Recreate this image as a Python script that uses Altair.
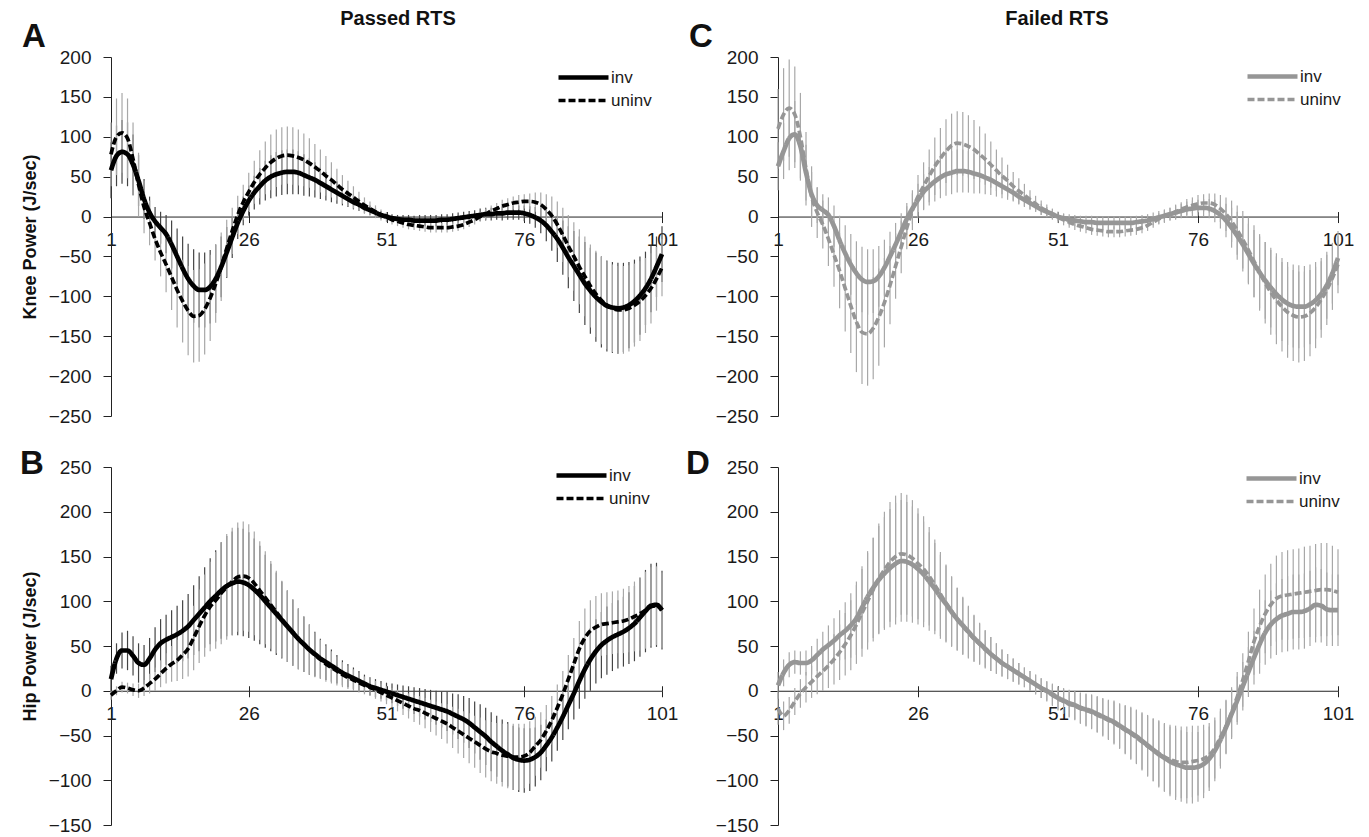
import altair as alt
import pandas as pd

FONT = "Liberation Sans"
X = list(range(1, 102))
X_TICKS = [1, 26, 51, 76, 101]
KNEE_TICKS = list(range(-250, 201, 50))
HIP_TICKS = list(range(-150, 251, 50))
SERIES = ["inv", "uninv"]

# ---------- Panel A : Passed RTS, knee ----------
A_inv = [58, 76, 81, 78, 65, 45, 22, 5, -6, -14,
         -22, -35, -50, -65, -78, -87, -92, -92, -88, -78,
         -63, -45, -26, -8, 7, 20, 30, 38, 45, 50,
         53, 55, 56, 56, 55, 52, 49, 46, 42, 38,
         34, 30, 26, 22, 18, 15, 11, 8, 5, 2,
         0, -2, -3, -4, -4, -5, -5, -5, -5, -5,
         -4, -4, -3, -2, -1, 0, 1, 2, 3, 3,
         4, 4, 5, 5, 5, 4, 2, -1, -5, -11,
         -19, -28, -39, -51, -62, -73, -84, -93, -101, -107,
         -112, -114, -115, -114, -111, -106, -99, -90, -78, -63,
         -47]
A_un = [78, 100, 105, 98, 72, 40, 12, -8, -28, -45,
        -60, -76, -92, -106, -118, -125, -124, -116, -102, -84,
        -63, -40, -18, 2, 18, 31, 43, 53, 61, 68,
        73, 76, 77, 76, 74, 71, 67, 62, 57, 51,
        46, 40, 34, 29, 24, 19, 14, 10, 6, 2,
        -1, -4, -6, -8, -10, -11, -12, -13, -14, -14,
        -14, -14, -13, -12, -10, -7, -4, 0, 3, 7,
        10, 13, 15, 17, 18, 19, 19, 18, 15, 9,
        1, -10, -23, -37, -50, -63, -75, -87, -97, -105,
        -111, -115, -117, -117, -115, -111, -106, -99, -90, -78,
        -64]
A_inv_sd = [35, 38, 40, 40, 38, 32, 25, 20, 18, 20,
            24, 30, 35, 40, 44, 46, 47, 47, 46, 43,
            38, 32, 26, 20, 18, 19, 21, 23, 25, 27,
            28, 28, 28, 28, 27, 26, 24, 22, 20, 18,
            16, 14, 12, 10, 9, 8, 7, 6, 6, 5,
            5, 5, 5, 6, 6, 6, 7, 7, 7, 7,
            7, 7, 7, 7, 7, 7, 7, 8, 8, 8,
            8, 9, 9, 9, 9, 10, 11, 13, 16, 20,
            24, 29, 34, 39, 44, 48, 52, 54, 56, 57,
            57, 57, 57, 56, 54, 52, 49, 46, 42, 38,
            35]
A_un_sd = [40, 48, 50, 50, 46, 40, 33, 28, 27, 30,
           35, 41, 47, 52, 56, 58, 58, 57, 54, 49,
           43, 36, 29, 24, 22, 24, 27, 30, 33, 35,
           36, 36, 36, 36, 35, 33, 31, 29, 27, 25,
           22, 20, 18, 16, 14, 12, 10, 9, 8, 7,
           6, 6, 6, 6, 6, 6, 6, 6, 6, 6,
           6, 6, 6, 6, 6, 6, 6, 6, 7, 7,
           7, 8, 8, 8, 9, 9, 10, 12, 15, 19,
           24, 29, 34, 39, 43, 47, 50, 52, 54, 55,
           55, 55, 55, 55, 54, 52, 50, 47, 44, 40,
           36]

# ---------- Panel C : Failed RTS, knee ----------
C_inv = [63, 82, 98, 103, 88, 55, 28, 14, 8, 2,
         -12, -30, -46, -60, -71, -79, -82, -81, -75, -64,
         -50, -35, -19, -3, 10, 21, 31, 38, 44, 49,
         53, 55, 57, 57, 56, 54, 52, 49, 46, 42,
         38, 34, 30, 25, 21, 17, 13, 9, 6, 3,
         0, -2, -4, -5, -6, -7, -7, -8, -8, -8,
         -8, -8, -8, -8, -7, -6, -5, -3, -1, 1,
         3, 5, 7, 9, 10, 11, 11, 10, 7, 2,
         -5, -14, -24, -35, -47, -59, -70, -80, -89, -97,
         -104, -109, -112, -113, -113, -110, -105, -97, -86, -71,
         -52]
C_un = [110, 128, 136, 128, 100, 60, 25, 5, -10, -28,
        -48, -68, -90, -112, -132, -145, -147, -140, -126, -108,
        -86, -62, -38, -14, 8, 25, 38, 51, 63, 73,
        82, 89, 92, 91, 88, 84, 78, 72, 65, 58,
        51, 45, 38, 32, 27, 21, 16, 11, 7, 3,
        -1, -4, -7, -10, -12, -14, -16, -17, -18, -19,
        -19, -19, -18, -17, -16, -14, -11, -7, -3, 0,
        3, 6, 9, 12, 14, 16, 17, 17, 15, 10,
        3, -6, -17, -29, -42, -56, -70, -83, -95, -105,
        -113, -120, -124, -126, -125, -121, -114, -104, -92, -77,
        -60]
C_inv_sd = [30, 35, 40, 42, 40, 35, 28, 22, 20, 22,
            26, 31, 35, 38, 40, 41, 41, 40, 38, 35,
            31, 27, 23, 20, 19, 20, 22, 24, 25, 26,
            27, 27, 27, 27, 26, 25, 23, 21, 19, 17,
            15, 13, 11, 10, 9, 8, 7, 7, 6, 6,
            6, 6, 7, 7, 7, 8, 8, 8, 8, 8,
            8, 8, 8, 8, 8, 8, 8, 8, 8, 8,
            8, 9, 9, 10, 10, 10, 11, 12, 14, 17,
            21, 25, 30, 34, 38, 42, 45, 48, 50, 51,
            52, 52, 52, 52, 51, 50, 48, 45, 42, 38,
            34]
C_un_sd = [50, 58, 61, 60, 55, 46, 38, 32, 30, 34,
           40, 47, 54, 59, 63, 65, 65, 64, 61, 56,
           49, 41, 33, 27, 25, 27, 30, 33, 36, 38,
           40, 40, 40, 40, 39, 37, 35, 32, 29, 26,
           23, 20, 18, 16, 14, 12, 10, 9, 8, 7,
           7, 7, 7, 7, 7, 7, 7, 7, 7, 7,
           7, 7, 7, 7, 7, 7, 7, 7, 7, 8,
           8, 9, 9, 10, 10, 11, 11, 12, 14, 17,
           21, 26, 31, 36, 41, 45, 48, 51, 53, 55,
           56, 57, 57, 57, 56, 54, 51, 48, 44, 40,
           36]

# ---------- Panel B : Passed RTS, hip ----------
B_inv = [13, 36, 45, 45, 39, 31, 29, 36, 46, 53,
         57, 60, 63, 67, 72, 79, 86, 93, 100, 106,
         112, 117, 120, 122, 121, 118, 113, 107, 100, 93,
         86, 79, 72, 65, 58, 52, 46, 41, 36, 32,
         28, 24, 20, 17, 14, 11, 8, 5, 3, 1,
         -1, -3, -5, -7, -9, -11, -13, -15, -17, -19,
         -21, -23, -26, -29, -32, -36, -41, -46, -51, -57,
         -62, -67, -71, -75, -77, -78, -77, -74, -69, -61,
         -52, -41, -29, -16, -3, 11, 24, 35, 44, 51,
         56, 60, 63, 66, 70, 75, 82, 89, 95, 96,
         90]
B_un = [-5, 0, 4, 3, 1, 0, 3, 8, 13, 19,
        25, 30, 34, 40, 47, 59, 72, 84, 94, 101,
        109, 116, 122, 127, 128, 126, 120, 112, 104, 96,
        88, 80, 72, 65, 58, 52, 46, 40, 35, 30,
        26, 22, 18, 15, 12, 9, 6, 4, 1, -2,
        -5, -8, -11, -14, -17, -20, -22, -25, -28, -31,
        -34, -37, -41, -45, -49, -53, -57, -61, -65, -68,
        -70, -72, -73, -74, -74, -73, -69, -62, -55, -45,
        -33, -19, -4, 13, 30, 47, 59, 67, 71, 74,
        75, 76, 77, 78, 80, 83, 86, 90, 94, 95,
        90]
B_inv_sd = [15, 17, 20, 22, 22, 22, 22, 23, 25, 27,
            28, 30, 32, 34, 36, 39, 42, 45, 48, 51,
            54, 56, 58, 60, 60, 59, 57, 55, 52, 49,
            46, 43, 40, 37, 34, 31, 28, 25, 22, 20,
            18, 16, 14, 13, 12, 11, 10, 10, 10, 10,
            10, 11, 12, 13, 14, 15, 16, 17, 18, 19,
            20, 22, 23, 25, 26, 28, 29, 31, 32, 33,
            34, 35, 36, 36, 36, 36, 35, 33, 31, 29,
            27, 26, 26, 27, 29, 31, 33, 35, 36, 37,
            38, 38, 38, 39, 40, 42, 44, 46, 47, 47,
            44]
B_un_sd = [5, 5, 6, 6, 7, 8, 9, 11, 13, 15,
           17, 20, 23, 27, 31, 36, 41, 46, 50, 54,
           57, 59, 60, 61, 61, 60, 58, 55, 52, 49,
           46, 43, 40, 37, 34, 31, 28, 25, 22, 20,
           18, 16, 14, 13, 12, 11, 10, 10, 10, 10,
           10, 11, 12, 13, 14, 15, 16, 17, 18, 19,
           20, 22, 23, 25, 26, 28, 29, 31, 32, 33,
           34, 35, 36, 37, 37, 36, 35, 33, 31, 29,
           27, 26, 26, 27, 29, 31, 33, 34, 35, 35,
           35, 35, 35, 36, 37, 39, 41, 43, 44, 44,
           42]

# ---------- Panel D : Failed RTS, hip ----------
D_inv = [6, 20, 29, 32, 31, 31, 34, 40, 46, 51,
         56, 62, 67, 73, 81, 93, 105, 115, 124, 131,
         137, 142, 145, 144, 141, 136, 130, 122, 114, 105,
         97, 88, 80, 73, 66, 59, 53, 47, 41, 36,
         31, 27, 23, 19, 15, 11, 7, 3, 0, -4,
         -8, -11, -14, -16, -19, -21, -23, -26, -29, -32,
         -35, -39, -43, -47, -51, -56, -61, -66, -71, -75,
         -79, -82, -84, -86, -86, -85, -82, -76, -67, -55,
         -41, -26, -11, 5, 21, 37, 52, 65, 74, 80,
         84, 86, 88, 88, 89, 92, 96, 95, 91, 90,
         90]
D_un = [-20, -28, -22, -12, -3, 4, 10, 16, 22, 28,
        35, 43, 52, 62, 74, 87, 100, 113, 125, 135,
        144, 150, 153, 152, 148, 142, 136, 128, 118, 108,
        98, 89, 80, 72, 65, 58, 52, 46, 41, 36,
        31, 27, 23, 19, 15, 11, 7, 3, -1, -5,
        -9, -12, -15, -17, -20, -22, -24, -27, -30, -33,
        -36, -40, -44, -48, -52, -57, -62, -66, -70, -74,
        -77, -79, -80, -80, -79, -78, -76, -72, -64, -52,
        -40, -24, -7, 12, 33, 55, 72, 86, 96, 103,
        106, 107, 108, 109, 110, 111, 112, 113, 113, 112,
        110]
D_inv_sd = [15, 15, 14, 13, 13, 14, 16, 18, 20, 22,
            25, 28, 32, 36, 41, 46, 51, 56, 60, 63,
            66, 68, 68, 67, 65, 62, 59, 55, 51, 47,
            43, 39, 35, 32, 29, 26, 23, 21, 19, 17,
            15, 14, 13, 12, 11, 11, 11, 11, 11, 12,
            13, 14, 15, 16, 17, 18, 19, 20, 21, 22,
            24, 25, 27, 29, 30, 32, 34, 35, 37, 38,
            39, 40, 40, 40, 40, 39, 38, 36, 34, 32,
            30, 28, 27, 27, 28, 30, 33, 36, 38, 40,
            41, 42, 42, 42, 42, 42, 42, 41, 41, 40,
            40]
D_un_sd = [18, 16, 15, 15, 16, 17, 18, 20, 22, 25,
           28, 31, 35, 39, 44, 49, 54, 58, 62, 65,
           67, 68, 68, 67, 65, 62, 59, 55, 51, 47,
           43, 39, 35, 32, 29, 26, 23, 21, 19, 17,
           15, 14, 13, 12, 11, 11, 11, 11, 11, 12,
           13, 14, 15, 16, 17, 18, 19, 20, 21, 22,
           24, 25, 27, 29, 30, 32, 34, 35, 37, 38,
           39, 40, 40, 40, 40, 39, 38, 36, 34, 32,
           30, 28, 28, 30, 33, 37, 41, 44, 46, 48,
           49, 50, 50, 50, 51, 51, 52, 52, 52, 50,
           48]


def frame(inv, uninv, inv_sd, uninv_sd):
    rows = []
    for name, m, sd in ((SERIES[0], inv, inv_sd), (SERIES[1], uninv, uninv_sd)):
        assert len(m) == 101 and len(sd) == 101, (name, len(m), len(sd))
        for x, v, e in zip(X, m, sd):
            rows.append({"x": x, "series": name, "mean": v, "lo": v - e, "hi": v + e})
    return pd.DataFrame(rows)


def panel(df, ydom, yticks, w, h, line_color, inv_bar, un_bar,
          letter, letter_pos, legend_pos, ytitle=None, title=None, title_pos=None):
    zero = h * ydom[1] / (ydom[1] - ydom[0])   # pixel row of y = 0 inside the plot
    xs = alt.Scale(domain=[1, 101], nice=False, zero=False)
    ys = alt.Scale(domain=ydom, nice=False, zero=False)
    x_bottom = alt.Axis(orient="bottom", offset=-(h - zero), values=X_TICKS, title=None,
                        grid=False, domainColor="#222222", domainWidth=1,
                        tickColor="#222222", tickSize=6, labelPadding=8,
                        labelFont=FONT, labelFontSize=19, labelColor="#1a1a1a",
                        labelFlush=False)
    x_top = alt.Axis(orient="top", offset=-zero, values=X_TICKS, title=None,
                     grid=False, domain=False, labels=False,
                     tickColor="#222222", tickSize=5)
    ykw = dict(orient="left", values=yticks, grid=False, domainColor="#222222",
               tickColor="#222222", tickSize=8, labelPadding=12, labelFont=FONT,
               labelFontSize=19, labelColor="#1a1a1a")
    if ytitle:
        ykw.update(title=ytitle, titleFont=FONT, titleFontSize=18, titleFontWeight="bold",
                   titleColor="#111111", titleX=-81, titleY=h / 2,
                   titleBaseline="middle", titleAngle=270)
    else:
        ykw.update(title=None)
    y_axis = alt.Axis(**ykw)

    base = alt.Chart(df)
    bars_inv = base.transform_filter("datum.series == 'inv'").mark_rule(
        color=inv_bar, strokeWidth=1.2).encode(
        x=alt.X("x:Q", scale=xs, axis=x_bottom),
        y=alt.Y("lo:Q", scale=ys, axis=y_axis),
        y2="hi:Q")
    bars_un = base.transform_filter("datum.series == 'uninv'").mark_rule(
        color=un_bar, strokeWidth=1.2).encode(
        x=alt.X("x:Q", scale=xs, axis=x_top),
        y=alt.Y("lo:Q", scale=ys, axis=y_axis),
        y2="hi:Q")
    lines = base.mark_line(interpolate="monotone", color=line_color).encode(
        x=alt.X("x:Q", scale=xs, axis=None),
        y=alt.Y("mean:Q", scale=ys, axis=y_axis),
        strokeDash=alt.StrokeDash(
            "series:N",
            scale=alt.Scale(domain=SERIES, range=[[1, 0], [7, 3]]),
            legend=alt.Legend(orient="none", legendX=legend_pos[0], legendY=legend_pos[1],
                              title=None, symbolType="stroke", symbolSize=2500,
                              symbolStrokeWidth=4, symbolStrokeColor=line_color,
                              labelFont=FONT, labelFontSize=17, labelColor="#1a1a1a",
                              labelOffset=0, clipHeight=23, rowPadding=0, padding=0)),
        strokeWidth=alt.StrokeWidth(
            "series:N", scale=alt.Scale(domain=SERIES, range=[4.7, 3.7]), legend=None),
        order="x:Q")
    letter_mark = alt.Chart(pd.DataFrame({"t": [letter]})).mark_text(
        font=FONT, fontSize=33, fontWeight="bold", color="#111111",
        align="center", baseline="middle").encode(
        text="t:N", x=alt.value(letter_pos[0]), y=alt.value(letter_pos[1]))
    layers = [bars_inv, bars_un, lines, letter_mark]
    if title:
        layers.append(alt.Chart(pd.DataFrame({"t": [title]})).mark_text(
            font=FONT, fontSize=20, fontWeight="bold", color="#111111",
            align="center", baseline="middle").encode(
            text="t:N", x=alt.value(title_pos[0]), y=alt.value(title_pos[1])))
    return alt.layer(*layers).properties(width=w, height=h)


pA = panel(frame(A_inv, A_un, A_inv_sd, A_un_sd), [-250, 200], KNEE_TICKS, 551, 359,
           "#000000", "#444444", "#a8a8a8", "A", (-77, -20), (445, 9),
           ytitle="Knee Power (J/sec)", title="Passed RTS", title_pos=(287, -38))
pC = panel(frame(C_inv, C_un, C_inv_sd, C_un_sd), [-250, 200], KNEE_TICKS, 560, 359,
           "#969696", "#a8a8a8", "#a8a8a8", "C", (-77, -20), (467, 8),
           title="Failed RTS", title_pos=(279, -38))
pB = panel(frame(B_inv, B_un, B_inv_sd, B_un_sd), [-150, 250], HIP_TICKS, 551, 358,
           "#000000", "#444444", "#a8a8a8", "B", (-79, -3), (443, -3),
           ytitle="Hip Power (J/sec)")
pD = panel(frame(D_inv, D_un, D_inv_sd, D_un_sd), [-150, 250], HIP_TICKS, 560, 358,
           "#969696", "#a8a8a8", "#a8a8a8", "D", (-80, -3), (466, 0))

chart = alt.concat(pA, pC, pB, pD, columns=2, spacing={"row": 22, "column": 8}).resolve_scale(
    x="independent", y="independent",
    strokeDash="independent", strokeWidth="independent").resolve_legend(
    strokeDash="independent").properties(
    padding={"left": 12, "top": 1, "right": 5, "bottom": 0},
    background="white").configure_view(stroke=None)

chart.save("out.html", embed_options={"renderer": "svg", "actions": False})
